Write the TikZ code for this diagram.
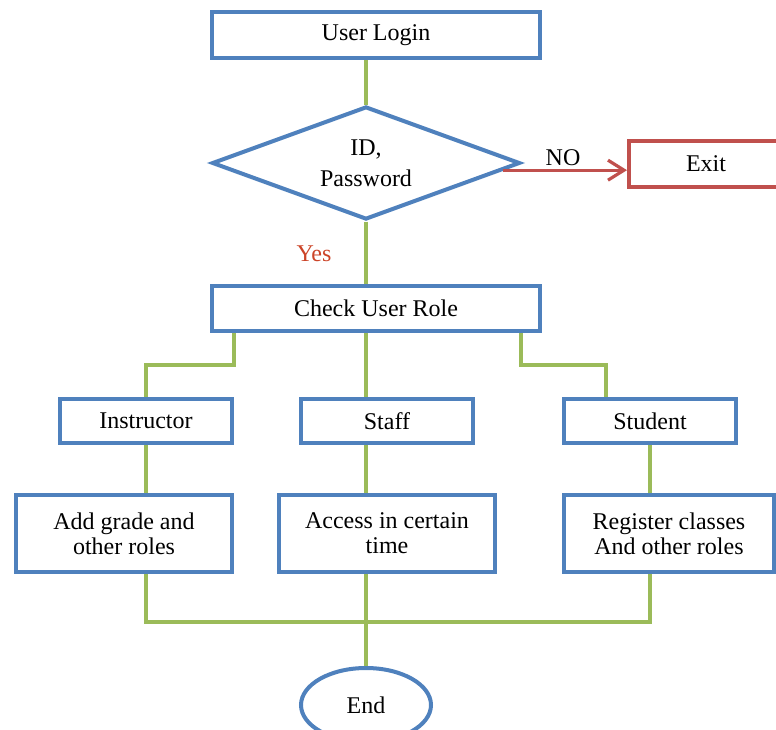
\documentclass[tikz,border=0pt]{standalone}
\usepackage{fontspec}
\setmainfont{Liberation Serif}
\usetikzlibrary{positioning,arrows.meta,shapes.geometric,calc}
\definecolor{boxblue}{RGB}{79,129,189}
\definecolor{linkgreen}{RGB}{155,187,89}
\definecolor{exitred}{RGB}{192,80,77}
\definecolor{yesred}{RGB}{204,68,40}

\begin{document}
\begin{tikzpicture}[x=0.5pt,y=-0.5pt,
    box/.style={draw=boxblue, line width=2pt, fill=white, minimum width=86pt,
        minimum height=22pt, inner sep=0pt, align=center,
        font=\fontsize{12}{12.5}\selectfont},
    link/.style={draw=linkgreen, line width=2pt},
    lbl/.style={inner sep=0pt, font=\fontsize{12}{12.5}\selectfont}]
    \useasboundingbox (0,0) rectangle (776,729);
    \clip (0,0) rectangle (776,729);
    \fill[white] (0,0) rectangle (776,729);
    % top part
    \node[box, minimum width=164pt, minimum height=23pt] (login) at (376,35) {User Login};
    \node[box, diamond, shape aspect=2.7, minimum width=154pt, minimum height=56.5pt] (pwd) at (366,163) {ID,\\[3pt]Password};
    \node[box, draw=exitred, minimum width=77pt, minimum height=23pt] (exit) at (706,164) {Exit};
    \node[lbl] (nolbl) at (563,158) {NO};
    \node[lbl, text=yesred] (yeslbl) at (314,254) {Yes};
    \node[box, minimum width=164pt, minimum height=22.5pt] (check) at (376,308.5) {Check User Role};
    % roles
    \node[box] (instr) at (146,421) {Instructor};
    \node[box] (staff) at (387,421) {Staff};
    \node[box] (student) at (650,421) {Student};
    \node[box, minimum width=108pt, minimum height=38.5pt] (add) at (124,533.5) {Add grade and\\other roles};
    \node[box, minimum width=108pt, minimum height=38.5pt] (access) at (387,533.5) {Access in certain\\time};
    \node[box, minimum width=105pt, minimum height=38.5pt] (reg) at (669,533.5) {Register classes\\And other roles};
    \node[box, ellipse, minimum width=65pt, minimum height=37pt] (finish) at (366,705) {End};
    % connectors
    \draw[link] (pwd.north |- login.south) -- (pwd.north);
    \draw[exitred, line width=1.6pt, -{Straight Barb[length=8pt,width=10pt]}] (pwd.-3.5) -- (pwd.-3.5 -| exit.west);
    \draw[link] (pwd.south) -- (pwd.south |- check.north);
    \draw[link] (instr.north east |- check.south) -- ++(0,32) -| (instr.north);
    \draw[link] (pwd.south |- check.south) -- (pwd.south |- staff.north);
    \draw[link] ($(check.south east)+(-21,0)$) -- ++(0,32) -| ($(student.north)+(-44,0)$);
    \draw[link] (instr.south) -- (instr.south |- add.north);
    \draw[link] (pwd.south |- staff.south) -- (pwd.south |- access.north);
    \draw[link] (student.south) -- (student.south |- reg.north);
    \draw[link] (instr.south |- add.south) -- ++(0,48) -| (student.south |- reg.south);
    \draw[link] (pwd.south |- access.south) -- (pwd.south |- finish.north);
\end{tikzpicture}
\end{document}
